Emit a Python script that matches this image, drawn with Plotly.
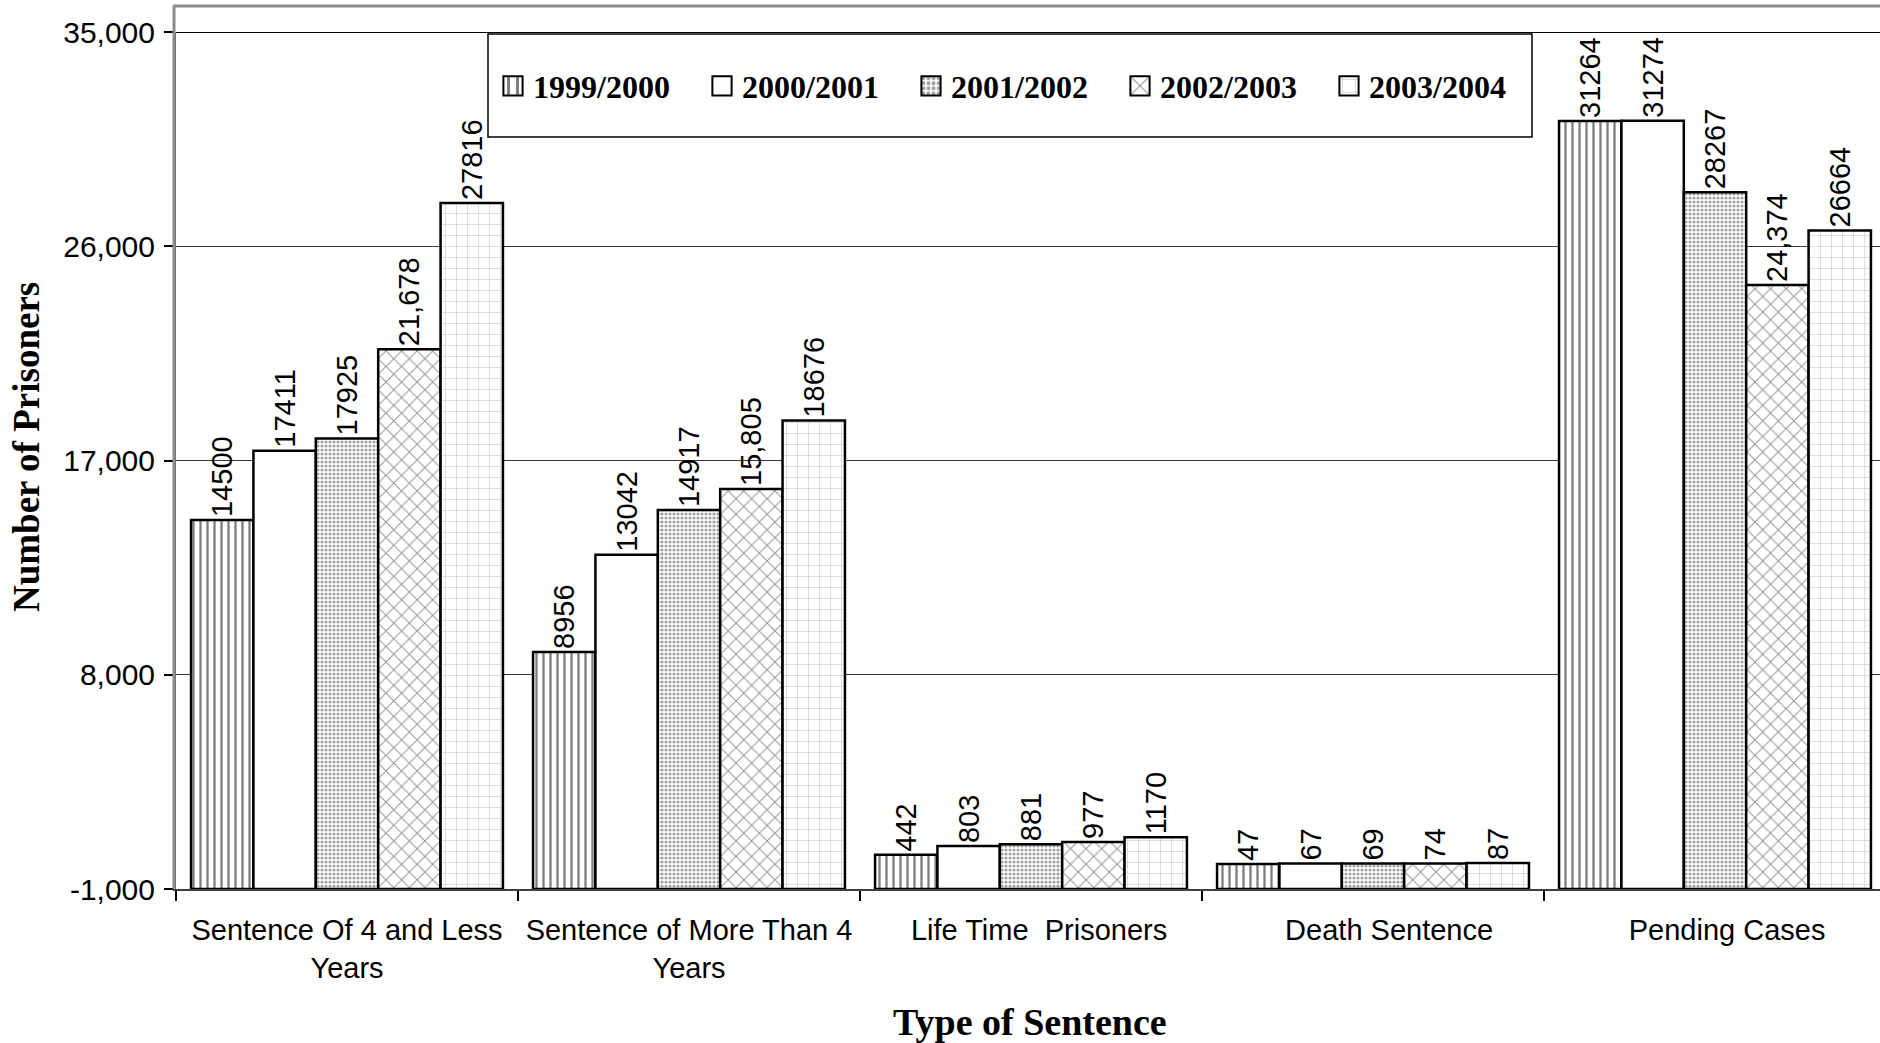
import plotly.graph_objects as go

NB = "\u00a0"
categories = [
    "Sentence Of 4 and Less<br>Years",
    "Sentence of More Than 4<br>Years",
    NB * 2 + "Life Time" + NB + " Prisoners",
    NB * 4 + "Death Sentence",
    NB * 3 + "Pending Cases",
]
series_names = ["1999/2000", "2000/2001", "2001/2002", "2002/2003", "2003/2004"]
v_1999 = [14500, 8956, 442, 47, 31264]
v_2000 = [17411, 13042, 803, 67, 31274]
v_2001 = [17925, 14917, 881, 69, 28267]
v_2002 = [21678, 15805, 977, 74, 24374]
v_2003 = [27816, 18676, 1170, 87, 26664]
lbl_1999 = ["14500", "8956", "442", "47", "31264"]
lbl_2000 = ["17411", "13042", "803", "67", "31274"]
lbl_2001 = ["17925", "14917", "881", "69", "28267"]
lbl_2002 = ["21,678", "15,805", "977", "74", "24,374"]
lbl_2003 = ["27816", "18676", "1170", "87", "26664"]
y_ticks = [-1000, 8000, 17000, 26000, 35000]
y_tick_labels = ["-1,000", "8,000", "17,000", "26,000", "35,000"]
axis_base = -1000

values = [v_1999, v_2000, v_2001, v_2002, v_2003]
labels = [lbl_1999, lbl_2000, lbl_2001, lbl_2002, lbl_2003]
patterns = [
    dict(shape="|", fgcolor="#000000", bgcolor="white", size=7, solidity=0.33),
    dict(shape="", fgcolor="white", bgcolor="white"),
    dict(shape=".", fgcolor="#444444", bgcolor="white", size=4, solidity=0.5),
    dict(shape="x", fgcolor="#2a2a2a", bgcolor="white", size=11, solidity=0.17),
    dict(shape="+", fgcolor="#8a8a8a", bgcolor="white", size=11, solidity=0.1),
]

W, H = 1880, 1043
ML, MR, MT, MB = 176, 0, 32, 154
PW, PH = W - ML - MR, H - MT - MB

def px_x(p):
    return (p - ML) / PW

def px_y(p):
    return (H - MB - p) / PH

fig = go.Figure()
for name, vals, lbls, pat in zip(series_names, values, labels, patterns):
    fig.add_trace(go.Bar(
        name=name,
        x=categories,
        y=[v - axis_base for v in vals],
        base=axis_base,
        text=lbls,
        textposition="outside",
        textangle=-90,
        constraintext="none",
        cliponaxis=False,
        textfont=dict(family="Liberation Sans, Arial, sans-serif", size=29, color="black"),
        marker=dict(color="white", line=dict(color="black", width=2.5), pattern=pat),
    ))

x_right = -0.5 + PW / 342.0

fig.update_layout(
    width=W, height=H,
    margin=dict(l=ML, r=MR, t=MT, b=MB, pad=0),
    paper_bgcolor="white", plot_bgcolor="white",
    barmode="group", bargap=0.088, bargroupgap=0,
    font=dict(family="Liberation Sans, Arial, sans-serif", color="black"),
    showlegend=True,
    legend=dict(
        orientation="h",
        x=px_x(493), xanchor="left",
        y=px_y(86), yanchor="middle",
        bgcolor="rgba(0,0,0,0)", borderwidth=0,
        entrywidth=164, entrywidthmode="pixels",
        font=dict(family="Liberation Serif, Times New Roman, serif", size=32, color="black", weight="bold"),
        traceorder="normal",
    ),
    xaxis=dict(
        type="category",
        range=[-0.5, x_right],
        tickson="boundaries",
        ticks="outside", ticklen=10, tickwidth=1.5, tickcolor="black",
        showline=True, linecolor="#404040", linewidth=2,
        showgrid=False,
        tickfont=dict(family="Liberation Sans, Arial, sans-serif", size=29, color="black"),
        ticklabelstandoff=14,
    ),
    yaxis=dict(
        range=[-1000, 35000],
        tickvals=y_ticks,
        ticktext=y_tick_labels,
        ticks="outside", ticklen=9, tickwidth=1.5, tickcolor="black",
        showline=True, linecolor="#606060", linewidth=3,
        showgrid=True, gridcolor="#383838", gridwidth=1.2,
        zeroline=False,
        tickfont=dict(family="Liberation Sans, Arial, sans-serif", size=30, color="black"),
        ticklabelstandoff=3,
    ),
    shapes=[
        dict(type="rect", xref="paper", yref="paper",
             x0=px_x(488), x1=px_x(1532), y0=px_y(137), y1=px_y(34),
             line=dict(color="black", width=1.5), fillcolor="white", layer="below"),
        dict(type="line", xref="paper", yref="y",
             x0=0, x1=1, y0=35000, y1=35000,
             line=dict(color="black", width=2)),
        dict(type="line", xref="paper", yref="paper",
             x0=px_x(173), x1=1, y0=px_y(6), y1=px_y(6),
             line=dict(color="#8c8c8c", width=3)),
        dict(type="line", xref="paper", yref="paper",
             x0=px_x(174), x1=px_x(174), y0=px_y(6), y1=0,
             line=dict(color="#8c8c8c", width=3)),
    ],
    annotations=[
        dict(text="Number of Prisoners", xref="paper", yref="paper",
             x=px_x(26), y=px_y(447), xanchor="center", yanchor="middle",
             textangle=-90, showarrow=False,
             font=dict(family="Liberation Serif, Times New Roman, serif", size=37, color="black", weight="bold")),
        dict(text="Type of Sentence", xref="paper", yref="paper",
             x=px_x(1030), y=px_y(1022), xanchor="center", yanchor="middle",
             showarrow=False,
             font=dict(family="Liberation Serif, Times New Roman, serif", size=38, color="black", weight="bold")),
    ],
)

post = (
    "document.body.style.margin='0px';"
    "document.body.style.overflow='hidden';"
    "document.querySelectorAll('.legend .legendpoints path').forEach(function(p){"
    "var t=p.getAttribute('transform')||'';"
    "p.setAttribute('transform', t+' scale(1.6)');"
    "p.style.vectorEffect='non-scaling-stroke';"
    "p.style.strokeWidth='2px';"
    "});"
)

fig.write_html("out.html", config={"displayModeBar": False}, post_script=post)
